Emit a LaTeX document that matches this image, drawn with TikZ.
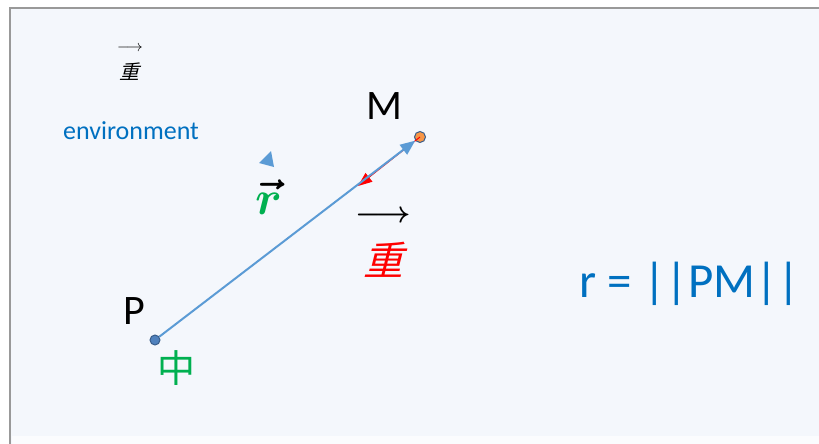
\RequirePackage{fix-cm}
\documentclass[tikz,border=0pt]{standalone}
\usepackage{fontspec}
\usepackage{amsmath}
\newfontfamily\carl{Carlito}
\newfontfamily\cjk{Noto Sans CJK SC}
\newfontfamily\cjkit[FakeSlant=0.25]{Noto Sans CJK SC}
\usetikzlibrary{arrows.meta}
\definecolor{panel}{HTML}{F4F7FC}
\definecolor{lineblue}{HTML}{5B9BD5}
\definecolor{txtblue}{HTML}{0070C0}
\definecolor{rgreen}{HTML}{00B050}
\definecolor{dotblue}{HTML}{4F81BD}
\definecolor{dotedge}{HTML}{385D8A}
\definecolor{orangec}{HTML}{F79646}
\tikzset{
  lbl/.style={inner sep=0pt, font=\carl\fontsize{42}{48}\selectfont},
  dotn/.style={circle, minimum size=10pt, inner sep=0pt, draw=dotedge, line width=1pt}
}
\begin{document}
\begin{tikzpicture}[x=1pt,y=-1pt]
\useasboundingbox (0,0) rectangle (819,444);
\fill[white] (0,0) rectangle (819,444);
\fill[panel] (10,8) rectangle (819,444);
\draw[gray!80, line width=2pt] (10,444) -- (10,8) -- (819,8);
\fill[white!60!panel] (12,436) rectangle (819,444);
% points
\node[dotn, fill=dotblue] (P) at (155,340) {};
\node[dotn, fill=orangec, minimum size=11pt] (M) at (420,137) {};
\coordinate (R) at (358,186);
% red vector
\draw[red, line width=1pt, -{Triangle[length=14pt,width=11pt]}] (M.center) -- (R);
% blue vector
\draw[lineblue, line width=2pt, -{Triangle[length=15pt,width=12pt]}] (P) -- (M);
% labels
\node[lbl] (lM) at (384,106) {M};
\node[lbl] (lP) at (134,311) {P};
\node[inner sep=0pt, text=rgreen, font=\cjk\fontsize{38}{40}\selectfont] (zhong) at (176,368) {中};
\node[inner sep=0pt, font=\boldmath\fontsize{48}{52}\selectfont] (rvec) at (269,197) {$\vec{{\color{rgreen}r}}$};
\fill[lineblue] (259,163) -- (271,151) -- (274,167) -- cycle;
\node[inner sep=0pt, font=\fontsize{16}{18}\selectfont] (sarr) at (130,49) {$\longrightarrow$};
\node[inner sep=0pt, font=\cjkit\fontsize{20}{22}\selectfont] (szh) at (129,72) {重};
\node[inner sep=0pt, text=txtblue, font=\carl\fontsize{26}{30}\selectfont] (env) at (131,131) {environment};
\node[inner sep=0pt, font=\boldmath\fontsize{30}{32}\selectfont] (barr) at (383,217) {$\longrightarrow$};
\node[inner sep=0pt, text=red, font=\cjkit\fontsize{40}{42}\selectfont] (bzh) at (383,260) {重};
\node[inner sep=0pt, text=txtblue, font=\carl\fontsize{49}{52}\selectfont] (eq) at (690,284) {r = ||PM||};
\end{tikzpicture}
\end{document}
